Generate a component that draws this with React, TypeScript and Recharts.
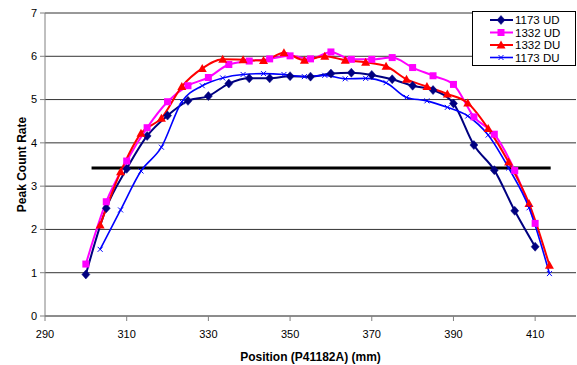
import React from 'react';
import { LineChart, Line, XAxis, YAxis, CartesianGrid } from 'recharts';

const udPositions = [300, 305, 310, 315, 320, 325, 330, 335, 340, 345, 350, 355, 360, 365, 370, 375, 380, 385, 390, 395, 400, 405, 410];
const duPositions = [303.5, 308.5, 313.5, 318.5, 323.5, 328.5, 333.5, 338.5, 343.5, 348.5, 353.5, 358.5, 363.5, 368.5, 373.5, 378.5, 383.5, 388.5, 393.5, 398.5, 403.5, 408.5, 413.5];

const ud1173 = [0.96, 2.49, 3.40, 4.16, 4.63, 4.97, 5.08, 5.37, 5.49, 5.49, 5.54, 5.53, 5.60, 5.62, 5.57, 5.47, 5.32, 5.22, 4.91, 3.95, 3.37, 2.43, 1.60];
const ud1332 = [1.20, 2.64, 3.58, 4.35, 4.95, 5.32, 5.51, 5.81, 5.89, 5.94, 6.01, 5.94, 6.10, 5.93, 5.93, 5.97, 5.74, 5.55, 5.35, 4.60, 4.20, 3.36, 2.14];
const du1332 = [2.10, 3.33, 4.22, 4.57, 5.30, 5.72, 5.93, 5.92, 5.90, 6.08, 5.91, 6.00, 5.91, 5.86, 5.77, 5.47, 5.30, 5.13, 4.92, 4.33, 3.56, 2.60, 1.17];
const du1173 = [1.54, 2.45, 3.35, 3.90, 4.95, 5.32, 5.50, 5.58, 5.60, 5.58, 5.53, 5.56, 5.48, 5.49, 5.39, 5.05, 4.97, 4.82, 4.62, 4.18, 3.42, 2.50, 0.98];

const refLineX = [301.4, 413.8];
const refLineY = 3.42;

const xTicks = [290, 310, 330, 350, 370, 390, 410];
const yTicks = [0, 1, 2, 3, 4, 5, 6, 7];

const FONT = '"Liberation Sans", Arial, sans-serif';

const toData = (xs: number[], ys: number[]) => xs.map((x, i) => ({ x, y: ys[i] }));

const Diamond = (color: string) => (p: any) => {
  const { cx, cy, index } = p;
  if (cx == null || cy == null) return <g key={`d${index}`} />;
  return <polygon key={`d${index}`} points={`${cx},${cy - 4.5} ${cx + 4},${cy} ${cx},${cy + 4.5} ${cx - 4},${cy}`} fill={color} stroke={color} strokeWidth={0.5} />;
};
const Square = (color: string) => (p: any) => {
  const { cx, cy, index } = p;
  if (cx == null || cy == null) return <g key={`s${index}`} />;
  return <rect key={`s${index}`} x={cx - 3.5} y={cy - 3.5} width={7} height={7} fill={color} />;
};
const Triangle = (color: string) => (p: any) => {
  const { cx, cy, index } = p;
  if (cx == null || cy == null) return <g key={`t${index}`} />;
  return <polygon key={`t${index}`} points={`${cx},${cy - 4.5} ${cx + 4.5},${cy + 3.5} ${cx - 4.5},${cy + 3.5}`} fill={color} />;
};
const Cross = (color: string) => (p: any) => {
  const { cx, cy, index } = p;
  if (cx == null || cy == null) return <g key={`c${index}`} />;
  return (
    <g key={`c${index}`}>
      <line x1={cx - 2.5} y1={cy - 2.5} x2={cx + 2.5} y2={cy + 2.5} stroke={color} strokeWidth={1} />
      <line x1={cx - 2.5} y1={cy + 2.5} x2={cx + 2.5} y2={cy - 2.5} stroke={color} strokeWidth={1} />
    </g>
  );
};

const series = [
  { name: '1173 UD', color: '#000080', data: toData(udPositions, ud1173), dot: Diamond('#000080'), width: 2 },
  { name: '1332 UD', color: '#FF00FF', data: toData(udPositions, ud1332), dot: Square('#FF00FF'), width: 2 },
  { name: '1332 DU', color: '#FF0000', data: toData(duPositions, du1332), dot: Triangle('#FF0000'), width: 2 },
  { name: '1173 DU', color: '#0000FF', data: toData(duPositions, du1173), dot: Cross('#0000FF'), width: 1.6 },
];

const refData = refLineX.map((x) => ({ x, y: refLineY }));

const LegendBox = () => (
  <svg style={{ position: 'absolute', left: 472, top: 11, overflow: 'visible' }} width={104} height={56}>
    <rect x={0.5} y={0.5} width={103} height={54} fill="#fff" stroke="#000" strokeWidth={1} />
    {series.map((s, i) => {
      const cy = 9 + i * 12.5;
      const cx = 29;
      const Dot = s.dot;
      return (
        <g key={s.name}>
          <line x1={18} y1={cy} x2={41} y2={cy} stroke={s.color} strokeWidth={s.width} />
          {Dot({ cx, cy, index: 100 + i })}
          <text x={43} y={cy + 4} fontSize={11.5} fontFamily={FONT} fill="#000">{s.name}</text>
        </g>
      );
    })}
  </svg>
);

export default function App() {
  return (
    <div style={{ position: 'absolute', left: 0, top: 0, width: 577, height: 365, background: '#fff' }}>
      <LineChart width={577} height={365} margin={{ top: 13, right: 1, left: 0, bottom: 0 }}>
        <CartesianGrid horizontal={true} vertical={false} stroke="#333" strokeWidth={1} />
        <XAxis
          type="number"
          dataKey="x"
          domain={[290, 420]}
          ticks={xTicks}
          allowDataOverflow
          height={49}
          tickSize={5}
          tickMargin={9}
          stroke="#808080"
          tick={{ fill: '#000', fontSize: 11, fontFamily: FONT }}
          label={{ value: 'Position (P41182A) (mm)', position: 'insideBottom', offset: 4, style: { fontWeight: 'bold', fontSize: 12, fontFamily: FONT, fill: '#000' } }}
        />
        <YAxis
          type="number"
          dataKey="y"
          domain={[0, 7]}
          ticks={yTicks}
          width={45}
          tickSize={5}
          tickMargin={3}
          stroke="#808080"
          tick={{ fill: '#000', fontSize: 11, fontFamily: FONT }}
          label={{ value: 'Peak Count Rate', angle: -90, position: 'center', dx: -1, style: { fontWeight: 'bold', fontSize: 12, fontFamily: FONT, fill: '#000', textAnchor: 'middle' } }}
        />
        <Line data={refData} dataKey="y" stroke="#000" strokeWidth={3} dot={false} isAnimationActive={false} legendType="none" />
        {series.map((s) => (
          <Line
            key={s.name}
            name={s.name}
            data={s.data}
            dataKey="y"
            type="monotone"
            stroke={s.color}
            strokeWidth={s.width}
            dot={s.dot}
            activeDot={false}
            isAnimationActive={false}
          />
        ))}
      </LineChart>
      <LegendBox />
    </div>
  );
}
